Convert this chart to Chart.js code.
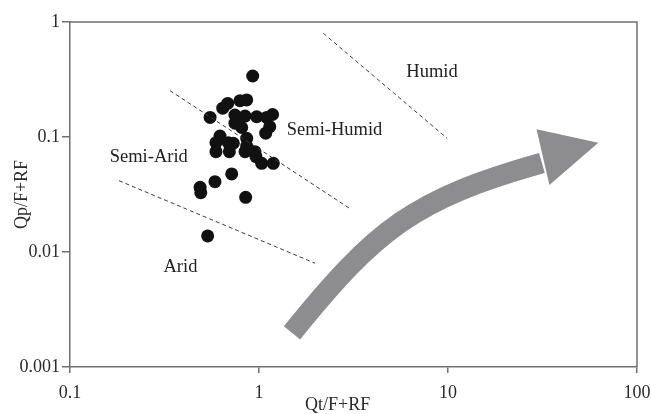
<!DOCTYPE html>
<html>
<head>
<meta charset="utf-8">
<script src="https://cdn.jsdelivr.net/npm/chart.js@4/dist/chart.umd.min.js"></script>
<style>
  html, body { margin: 0; padding: 0; background: #fff; }
  #wrap { width: 651px; height: 414px; position: relative; }
</style>
</head>
<body>
<div id="wrap"><canvas id="c" width="651" height="414"></canvas></div>
<script>
// ---- data ----
const sampleQt = [0.926, 0.793, 0.861, 0.683, 0.643, 0.551, 0.746, 0.844, 0.972, 1.098, 1.18,
                  0.746, 0.81, 1.14, 1.085, 0.622, 0.861, 0.592, 0.688, 0.731, 0.861,
                  0.592, 0.697, 0.844, 0.952, 0.964, 1.033, 1.19, 0.717, 0.585, 0.488, 0.492, 0.85, 0.535];
const sampleQp = [0.339, 0.207, 0.210, 0.196, 0.178, 0.148, 0.155, 0.152, 0.150, 0.148, 0.157,
                  0.132, 0.121, 0.123, 0.108, 0.102, 0.0974, 0.0892, 0.0892, 0.0882, 0.0835,
                  0.0745, 0.0745, 0.0745, 0.0745, 0.0674, 0.059, 0.059, 0.0477, 0.0409, 0.0365, 0.0328, 0.0299, 0.0138];

const humidBoundaryX = [2.19, 9.9];
const humidBoundaryY = [0.797, 0.0974];
const semiHumidBoundaryX = [0.338, 3.07];
const semiHumidBoundaryY = [0.253, 0.0235];
const aridBoundaryX = [0.1816, 1.98];
const aridBoundaryY = [0.0417, 0.00798];

const zoneNames = ['Humid', 'Semi-Humid', 'Semi-Arid', 'Arid'];
const zoneLabelX = [8.23, 2.51, 0.261, 0.384];
const zoneLabelY = [0.367, 0.115, 0.067, 0.0074];

// trend arrow: cubic curve (start, control 1, control 2, end) and head triangle
const arrowCurveX = [1.495, 4.16, 6.61, 31.4];
const arrowCurveY = [0.00198, 0.01585, 0.0289, 0.0594];
const arrowHeadX = [29.4, 62.4, 34.4];
const arrowHeadY = [0.1167, 0.0892, 0.0383];

const xTickValues = [0.1, 1, 10, 100];
const yTickValues = [0.001, 0.01, 0.1, 1];
const xTitle = 'Qt/F+RF';
const yTitle = 'Qp/F+RF';

// ---- helpers ----
const pts = (xs, ys) => xs.map((x, i) => ({ x: x, y: ys[i] }));
const FONT = '"Liberation Serif", "Times New Roman", serif';
const AXIS = '#707070';
const TEXT = '#2a2a2a';

const boundaryStyle = {
  showLine: true, borderColor: '#3a3a3a', borderWidth: 1, borderDash: [4, 3],
  pointRadius: 0, pointHoverRadius: 0, fill: false
};

const decorPlugin = {
  id: 'decor',
  beforeDatasetsDraw(chart) {
    const { ctx, scales: { x, y } } = chart;
    const c = arrowCurveX.map((v, i) => [x.getPixelForValue(v), y.getPixelForValue(arrowCurveY[i])]);
    ctx.save();
    ctx.strokeStyle = '#8d8d8f';
    ctx.fillStyle = '#8d8d8f';
    ctx.lineWidth = 21;
    ctx.lineCap = 'butt';
    ctx.beginPath();
    ctx.moveTo(c[0][0], c[0][1]);
    ctx.bezierCurveTo(c[1][0], c[1][1], c[2][0], c[2][1], c[3][0], c[3][1]);
    ctx.stroke();
    ctx.beginPath();
    arrowHeadX.forEach((v, i) => {
      const px = x.getPixelForValue(v), py = y.getPixelForValue(arrowHeadY[i]);
      if (i === 0) ctx.moveTo(px, py); else ctx.lineTo(px, py);
    });
    ctx.closePath();
    ctx.fill();
    // zone labels
    ctx.fillStyle = '#222';
    ctx.font = '18.5px ' + FONT;
    ctx.textAlign = 'center';
    ctx.textBaseline = 'middle';
    zoneNames.forEach((t, i) => {
      ctx.fillText(t, x.getPixelForValue(zoneLabelX[i]), y.getPixelForValue(zoneLabelY[i]));
    });
    ctx.restore();
  },
  afterDraw(chart) {
    const { ctx, chartArea: a } = chart;
    ctx.save();
    ctx.strokeStyle = AXIS;
    ctx.lineWidth = 1.5;
    ctx.beginPath();
    ctx.moveTo(a.left, a.top);
    ctx.lineTo(a.right, a.top);
    ctx.lineTo(a.right, a.bottom);
    ctx.stroke();
    // x axis title (offset left of centre as in the reference)
    ctx.fillStyle = TEXT;
    ctx.font = '18px ' + FONT;
    ctx.textAlign = 'center';
    ctx.textBaseline = 'alphabetic';
    ctx.fillText(xTitle, a.left + (a.right - a.left) * 0.472, 410);
    ctx.restore();
  }
};

new Chart(document.getElementById('c'), {
  type: 'scatter',
  data: {
    datasets: [
      Object.assign({ data: pts(humidBoundaryX, humidBoundaryY) }, boundaryStyle),
      Object.assign({ data: pts(semiHumidBoundaryX, semiHumidBoundaryY) }, boundaryStyle),
      Object.assign({ data: pts(aridBoundaryX, aridBoundaryY) }, boundaryStyle),
      {
        data: pts(sampleQt, sampleQp),
        pointRadius: 6.5, pointHoverRadius: 6.5,
        backgroundColor: '#111', borderColor: '#111', borderWidth: 0
      }
    ]
  },
  options: {
    responsive: false,
    animation: false,
    events: [],
    layout: { padding: { top: 22, right: 14, left: 0, bottom: 0 } },
    plugins: { legend: { display: false }, tooltip: { enabled: false } },
    scales: {
      x: {
        type: 'logarithmic', min: 0.1, max: 100,
        afterBuildTicks: (axis) => { axis.ticks = xTickValues.map(v => ({ value: v })); },
        afterFit: (axis) => { axis.height = 47; axis.paddingLeft = 0; axis.paddingRight = 0; },
        ticks: {
          color: TEXT, font: { family: FONT, size: 18 }, padding: 9,
          maxRotation: 0, autoSkip: false,
          callback: (v) => String(v)
        },
        grid: { drawOnChartArea: false, drawTicks: true, tickLength: 6, color: AXIS, lineWidth: 1.5 },
        border: { display: true, color: AXIS, width: 1.5 },
        title: { display: false, text: xTitle }
      },
      y: {
        type: 'logarithmic', min: 0.001, max: 1,
        afterBuildTicks: (axis) => { axis.ticks = yTickValues.map(v => ({ value: v })); },
        afterFit: (axis) => { axis.width = 70; axis.paddingTop = 0; axis.paddingBottom = 0; },
        ticks: {
          color: TEXT, font: { family: FONT, size: 18 }, padding: 2,
          autoSkip: false,
          callback: (v) => String(v)
        },
        grid: { drawOnChartArea: false, drawTicks: true, tickLength: 8, color: AXIS, lineWidth: 1.5 },
        border: { display: true, color: AXIS, width: 1.5 },
        title: { display: true, text: yTitle, color: TEXT, font: { family: FONT, size: 18 }, padding: { top: 11, bottom: 0 } }
      }
    }
  },
  plugins: [decorPlugin]
});
</script>
</body>
</html>
